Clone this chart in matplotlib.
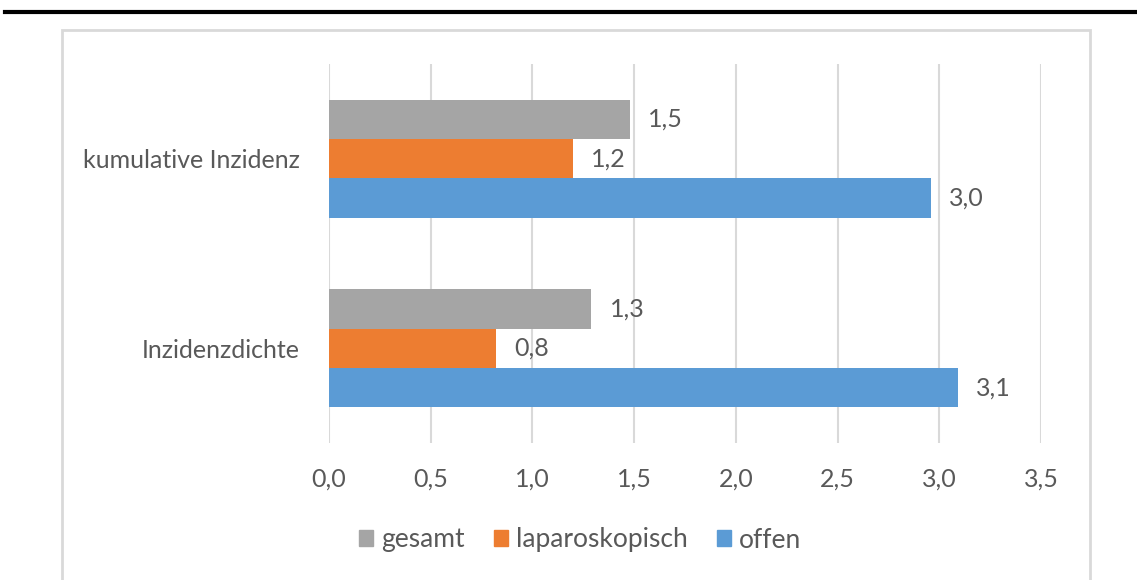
import matplotlib.pyplot as plt
import numpy as np
from matplotlib.lines import Line2D
from matplotlib.patches import Rectangle

# data
categories = ["Inzidenzdichte", "kumulative Inzidenz"]
series = ["gesamt", "laparoskopisch", "offen"]
gesamt = [1.29, 1.48]
laparoskopisch = [0.82, 1.20]
offen = [3.09, 2.96]
xticks = [0.0, 0.5, 1.0, 1.5, 2.0, 2.5, 3.0, 3.5]

colors = {"gesamt": "#a5a5a5", "laparoskopisch": "#ed7d31", "offen": "#5b9bd5"}
text_col = "#595959"
grid_col = "#d9d9d9"

plt.rcParams["font.family"] = ["Lato", "DejaVu Sans"]

W, H = 1137, 580
fig = plt.figure(figsize=(W / 100, H / 100), dpi=100)

# axes placed in pixel coordinates of the reference
x0, x1 = 329, 1041
y_top, y_bot = 64, 443
ax = fig.add_axes([x0 / W, 1 - y_bot / H, (x1 - x0) / W, (y_bot - y_top) / H])

bh = 0.208
y = np.arange(len(categories))
vals = {"gesamt": gesamt, "laparoskopisch": laparoskopisch, "offen": offen}
offsets = {"gesamt": bh, "laparoskopisch": 0.0, "offen": -bh}
for name in series:
    bars = ax.barh(y + offsets[name], vals[name], height=bh,
                   color=colors[name], label=name, zorder=3)
    for b, v in zip(bars, vals[name]):
        ax.text(v + 0.09, b.get_y() + b.get_height() / 2,
                f"{v:.1f}".replace(".", ","), va="center", ha="left",
                fontsize=18, color=text_col)

ax.set_xlim(0, 3.5)
ax.set_ylim(-0.5, 1.5)
ax.set_xticks(xticks)
ax.set_xticklabels([f"{t:.1f}".replace(".", ",") for t in xticks])
ax.set_yticks(y)
ax.set_yticklabels(categories)
ax.tick_params(axis="both", length=0, labelsize=18, labelcolor=text_col)
ax.tick_params(axis="y", pad=21)
ax.tick_params(axis="x", pad=18)
ax.grid(axis="x", color=grid_col, lw=1.5, zorder=0)
for s in ax.spines.values():
    s.set_visible(False)

# legend
handles = [Rectangle((0, 0), 1, 1, color=colors[n]) for n in series]
fig.legend(handles, series, loc="center", bbox_to_anchor=(580 / W, 1 - 540 / H),
           ncol=3, frameon=False, fontsize=19, labelcolor=text_col,
           handlelength=0.53, handleheight=0.57, handletextpad=0.3,
           columnspacing=1.1, borderpad=0)

# chart frame and top rule
fig.add_artist(Rectangle((62 / W, -0.05), (1090 - 62) / W, 1.05 - 30 / H,
                         transform=fig.transFigure, fill=False,
                         edgecolor=grid_col, lw=2))
fig.add_artist(Line2D([5 / W, 1], [1 - 12 / H, 1 - 12 / H],
                      transform=fig.transFigure, color="black", lw=3))

fig.savefig("out.png", dpi=100)
